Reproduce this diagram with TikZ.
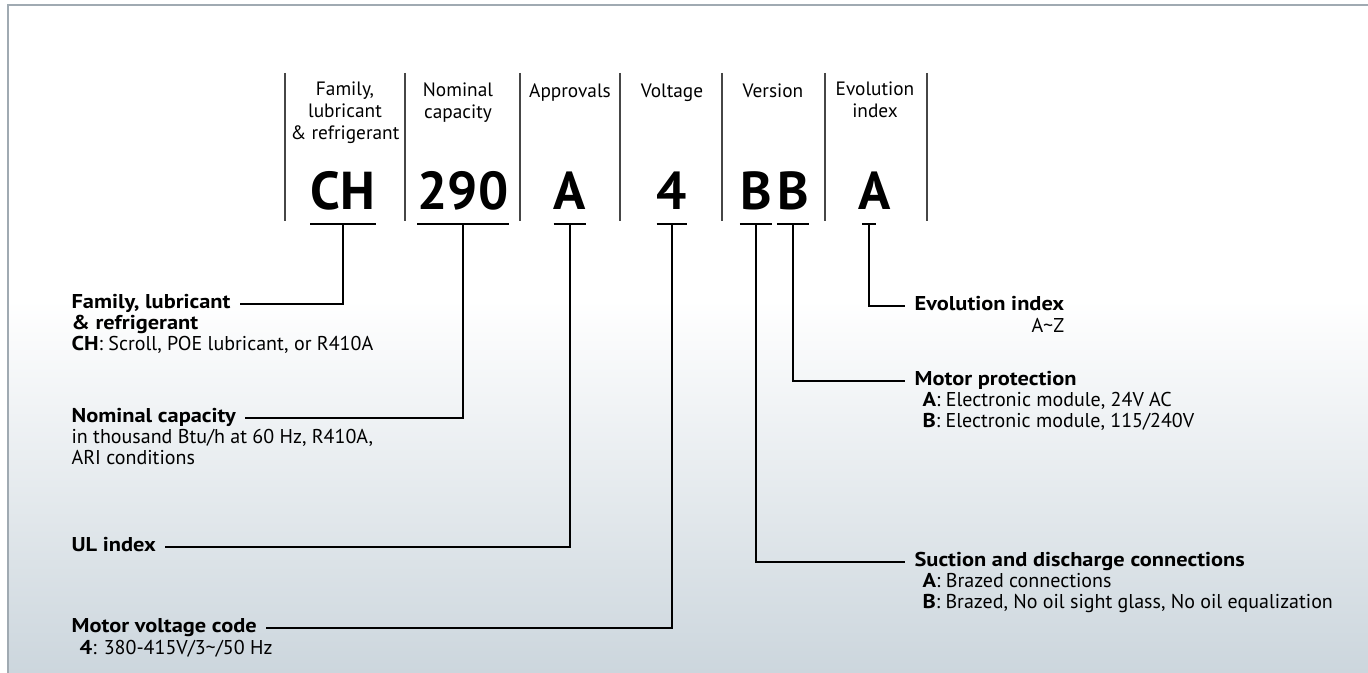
\documentclass[tikz,border=0pt]{standalone}
\usepackage{fontspec}
\setmainfont{PT Sans}[BoldFeatures={FakeStretch=1.12}]
\newfontfamily\codefont{PT Sans}
\usetikzlibrary{positioning}
\definecolor{framegray}{RGB}{160,170,178}
\definecolor{bgbot}{RGB}{204,214,221}
\definecolor{sepgray}{RGB}{70,70,70}
\tikzset{
  hdr/.style={align=center, anchor=north, inner sep=0pt, font=\fontsize{14.5}{16.5}\selectfont, execute at begin node=\strut},
  code/.style={anchor=base, inner sep=0pt, font=\fontsize{40}{40}\codefont\bfseries},
  ttl/.style={anchor=west, inner ysep=0pt, inner xsep=7pt, text height=11.2pt, text depth=4.8pt, font=\fontsize{15}{16}\selectfont\bfseries},
  desc/.style={align=left, inner ysep=0pt, inner xsep=7pt, font=\fontsize{15}{16}\selectfont, execute at begin node=\strut},
  conn/.style={line width=1.1pt},
  sepline/.style={line width=0.8pt, sepgray}
}

\begin{document}
\begin{tikzpicture}[x=0.75pt, y=-0.75pt]
  % Background
  \useasboundingbox (0,0) rectangle (1368,673);
  \fill[white] (0,0) rectangle (1368,673);
  \shade[top color=white, bottom color=bgbot] (8,300) rectangle (1368,673);
  \draw[framegray, line width=1.5pt] (8,673) -- (8,5) -- (1368,5);

  % Column headers
  \foreach \x in {285,405,520,620,722,825,927}
    \draw[sepline] (\x,73) -- (\x,221);
  \node[hdr] (hFam) at (345,82) {Family,\\lubricant\\\& refrigerant};
  \node[hdr] (hCap) at (458,82) {Nominal\\capacity};
  \node[hdr] (hAppr) at (570,82) {Approvals};
  \node[hdr] (hVolt) at (672,82) {Voltage};
  \node[hdr] (hVer) at (773,82) {Version};
  \node[hdr] (hEvo) at (875,82) {Evolution\\index};

  % Code letters
  \node[code] (cCH) at (343,210) {CH};
  \node[code] (cCap) at (463,210) {290};
  \node[code] (cAppr) at (570,210) {A};
  \node[code] (cVolt) at (672,210) {4};
  \node[code] (cVerA) at (756,210) {B};
  \node[code] (cVerB) at (793,210) {B};
  \node[code] (cEvo) at (875,210) {A};

  % Underlines and ticks
  \foreach \n in {CH,Cap,Appr,Volt,VerA,VerB} {
    \coordinate (t\n) at (c\n.base |- 0,224);
    \draw[conn] (c\n.west |- 0,224) -- (c\n.east |- 0,224);
  }
  \coordinate (tEvo) at (869,224);
  \draw[conn] ([xshift=-5pt]tEvo) -- ([xshift=5pt]tEvo);

  % Left labels
  \node[ttl] (lFam) at (62,304) {Family, lubricant};
  \node[desc, anchor=north west] (dFam) at (lFam.south west)
    {\textbf{\& refrigerant}\\\textbf{CH}: Scroll, POE lubricant, or R410A};
  \node[ttl] (lCap) at (62,418) {Nominal capacity};
  \node[desc, anchor=north west] (dCap) at (lCap.south west)
    {in thousand Btu/h at 60 Hz, R410A,\\ARI conditions};
  \node[ttl] (lUL) at (62,547) {UL index};
  \node[ttl] (lVolt) at (62,628) {Motor voltage code};
  \node[desc, anchor=north west] (dVolt) at ([xshift=6pt]lVolt.south west)
    {\textbf{4}: 380-415V/3\textasciitilde/50 Hz};

  % Right labels
  \node[ttl] (lEvo) at (905,306) {Evolution index};
  \node[desc, align=right, anchor=north east] (dEvo) at (lEvo.south east)
    {A\textasciitilde Z};
  \node[ttl] (lMot) at (905,381) {Motor protection};
  \node[desc, anchor=north west] (dMot) at ([xshift=6pt]lMot.south west)
    {\textbf{A}: Electronic module, 24V AC\\\textbf{B}: Electronic module, 115/240V};
  \node[ttl] (lSuc) at (905,562) {Suction and discharge connections};
  \node[desc, anchor=north west] (dSuc) at ([xshift=6pt]lSuc.south west)
    {\textbf{A}: Brazed connections\\\textbf{B}: Brazed, No oil sight glass, No oil equalization};

  % Connectors
  \draw[conn] (tCH) |- (lFam.east);
  \draw[conn] (tCap) |- (lCap.east);
  \draw[conn] (tAppr) |- (lUL.east);
  \draw[conn] (tVolt) |- (lVolt.east);
  \draw[conn] (tVerA) |- (lSuc.west);
  \draw[conn] (tVerB) |- (lMot.west);
  \draw[conn] (tEvo) |- (lEvo.west);
\end{tikzpicture}
\end{document}
